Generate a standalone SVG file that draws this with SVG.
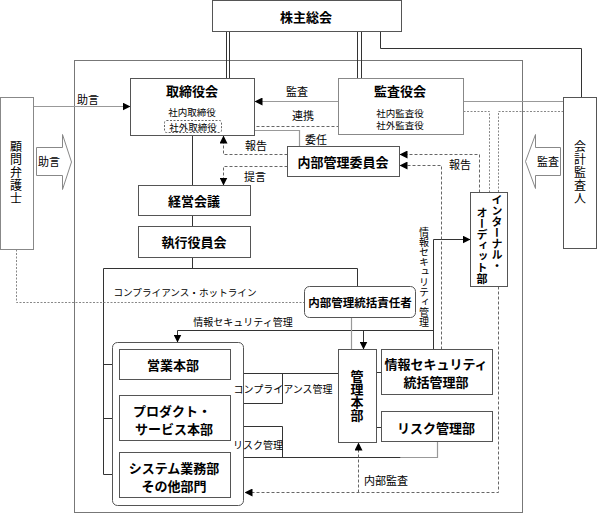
<svg xmlns="http://www.w3.org/2000/svg" width="597" height="514" viewBox="0 0 597 514">
<style>
.t{font-family:"Noto Sans CJK JP","Noto Sans CJK SC",sans-serif;fill:#000}
.b{font-weight:bold}
.c{text-anchor:middle;dominant-baseline:central}
.v{writing-mode:vertical-rl;text-anchor:middle}
.vs{writing-mode:vertical-rl;text-anchor:start}
.box{fill:#fff;stroke:#555;stroke-width:1}
.gbox{fill:#fff;stroke:#888;stroke-width:1}
.ln{fill:none;stroke:#333;stroke-width:1}
.lg{fill:none;stroke:#999;stroke-width:1.2}
.da{fill:none;stroke:#666;stroke-width:1;stroke-dasharray:3 2}
.do{fill:none;stroke:#888;stroke-width:1;stroke-dasharray:2 1.5}
.arr{marker-end:url(#ah)}
</style>
<defs>
<marker id="ah" viewBox="0 0 8 8" refX="8" refY="4" markerWidth="8" markerHeight="8" orient="auto" markerUnits="userSpaceOnUse"><path d="M0,0 L8,4 L0,8 z" fill="#000"/></marker>
</defs>
<rect width="597" height="514" fill="#fff"/>
<g transform="translate(0.5,0.5)">
<g id="frame"><rect x="74" y="60" width="448" height="452" fill="none" stroke="#777" stroke-width="1"/></g>

<g id="connectors">
<path class="ln" d="M226,31V78M229,31V78"/>
<path class="ln" d="M357,31V78M361,31V78"/>
<path class="ln" d="M380,31V48H581V97"/>
<path class="lg arr" d="M33,106H130"/>
<path class="lg arr" d="M338,101H254"/>
<path class="lg" d="M463,101H563"/>
<path class="da" d="M221,126H338"/>
<path class="lg" d="M254,130H299V146"/>
<path class="da arr" d="M287,154H223V135"/>
<path class="da arr" d="M287,166H223V185"/>
<path class="ln" d="M192,135V185M192,215V226M192,257V268"/>
<path class="ln" d="M103,268H357V286"/>
<path class="ln" d="M103,268V474M103,364H119M103,418H119M103,474H119"/>
<path class="do" d="M16,249V302H304"/>
<path class="ln arr" d="M433,349V239H470"/>
<path class="ln arr" d="M433,330H177V342"/>
<path class="ln arr" d="M363,330V349"/>
<path class="lg" d="M351,317V349"/>
<path class="ln" d="M376,372H381M376,427H381"/>
<path class="ln arr" d="M338,373H230"/>
<path class="ln arr" d="M282,373V403H230"/>
<path class="lg" d="M437,441V457H400"/>
<path class="ln arr" d="M400,457H230"/>
<path class="ln arr" d="M282,457V426H230"/>
<path class="da arr" d="M479,192V154H399"/>
<path class="da arr" d="M441,349V165H399"/>
<path class="do" d="M463,111H489V192"/>
<path class="do" d="M563,111H498V192"/>
<path class="da arr" d="M498,286V492H244"/>
<path class="da arr" d="M358,492V442"/>
</g>

<g id="n-shareholders"><rect class="box" x="212" y="0" width="189" height="31"/></g>
<g id="n-board"><rect class="box" x="130" y="78" width="124" height="57"/>
<rect x="164" y="120" width="57" height="12" rx="2" fill="none" stroke="#666" stroke-dasharray="2 1.5"/></g>
<g id="n-auditors"><rect class="gbox" x="338" y="78" width="125" height="56"/></g>
<g id="n-lawyer"><rect class="gbox" x="0" y="97" width="33" height="152"/></g>
<g id="n-accounting"><rect class="box" x="563" y="97" width="33" height="151"/></g>
<g id="n-advice-arrow"><path d="M36,147H62V134L71,161.5L62,189V175H36Z" fill="#fff" stroke="#888"/></g>
<g id="n-audit-arrow"><path d="M560,147H535V134L525,161L535,188V175H560Z" fill="#fff" stroke="#888"/></g>
<g id="n-committee"><rect class="box" x="287" y="146" width="112" height="30"/></g>
<g id="n-mgmt-meeting"><rect class="box" x="138" y="185" width="112" height="30"/></g>
<g id="n-exec"><rect class="box" x="138" y="226" width="112" height="31"/></g>
<g id="n-officer"><rect class="box" x="304" y="286" width="111" height="31" rx="5"/></g>
<g id="n-internal-audit"><rect class="box" x="470" y="192" width="37" height="94"/></g>
<g id="n-group"><rect class="box" x="112" y="342" width="131" height="163" rx="5"/></g>
<g id="n-sales"><rect class="box" x="119" y="349" width="111" height="30"/></g>
<g id="n-product"><rect class="box" x="119" y="395" width="111" height="45"/></g>
<g id="n-system"><rect class="box" x="119" y="452" width="111" height="45"/></g>
<g id="n-admin"><rect class="box" x="338" y="349" width="38" height="93"/></g>
<g id="n-infosec"><rect class="box" x="381" y="349" width="111" height="45"/></g>
<g id="n-risk"><rect class="box" x="381" y="411" width="111" height="30"/></g>
</g>

<g id="texts">
<text class="t b c" x="306" y="16" font-size="13">株主総会</text>
<text class="t b c" x="192" y="90" font-size="13">取締役会</text>
<text class="t c" x="192" y="112" font-size="9.5">社内取締役</text>
<text class="t c" x="193" y="126.5" font-size="9.5">社外取締役</text>
<text class="t b c" x="400" y="90" font-size="13">監査役会</text>
<text class="t c" x="400" y="112.5" font-size="9.5">社内監査役</text>
<text class="t c" x="400" y="125" font-size="9.5">社外監査役</text>
<text class="t v" x="16" y="173" font-size="12" letter-spacing="1">顧問弁護士</text>
<text class="t v" x="580" y="173" font-size="12" letter-spacing="1">会計監査人</text>
<text class="t c" x="88" y="99" font-size="11">助言</text>
<text class="t c" x="49" y="161" font-size="11">助言</text>
<text class="t c" x="548" y="161" font-size="11">監査</text>
<text class="t c" x="297" y="91" font-size="11">監査</text>
<text class="t c" x="303" y="115" font-size="11">連携</text>
<text class="t c" x="316" y="139" font-size="11">委任</text>
<text class="t c" x="256" y="145" font-size="11">報告</text>
<text class="t c" x="255" y="176" font-size="11">提言</text>
<text class="t c" x="460" y="164" font-size="11">報告</text>
<text class="t b c" x="343" y="161" font-size="13">内部管理委員会</text>
<text class="t b c" x="194" y="200" font-size="13">経営会議</text>
<text class="t b c" x="194" y="241" font-size="13">執行役員会</text>
<text class="t b c" x="360" y="302" font-size="11.5">内部管理統括責任者</text>
<text class="t vs b" x="497" y="194" font-size="11">インターナル・</text>
<text class="t vs b" x="482" y="207" font-size="11">オーディット部</text>
<text class="t v" x="424" y="277" font-size="10">情報セキュリティ管理</text>
<text class="t c" x="185" y="292" font-size="9.6">コンプライアンス・ホットライン</text>
<text class="t c" x="243" y="321" font-size="10">情報セキュリティ管理</text>
<text class="t b c" x="173" y="364" font-size="13">営業本部</text>
<text class="t b c" x="172" y="410" font-size="13">プロダクト・</text>
<text class="t b c" x="174" y="428" font-size="13">サービス本部</text>
<text class="t b c" x="174" y="467" font-size="13">システム業務部</text>
<text class="t b c" x="174" y="485" font-size="13">その他部門</text>
<text class="t v b" x="357" y="396" font-size="13">管理本部</text>
<text class="t b c" x="436" y="363" font-size="13">情報セキュリティ</text>
<text class="t b c" x="436" y="381" font-size="13">統括管理部</text>
<text class="t b c" x="436" y="427" font-size="13">リスク管理部</text>
<text class="t c" x="283" y="388" font-size="10">コンプライアンス管理</text>
<text class="t c" x="258" y="444" font-size="10">リスク管理</text>
<text class="t c" x="386" y="480" font-size="11">内部監査</text>
</g>
</svg>
